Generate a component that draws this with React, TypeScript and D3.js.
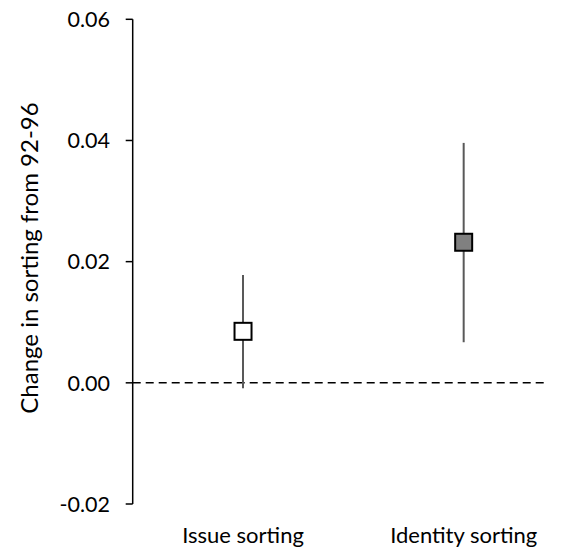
import React from "react";
import * as d3 from "d3";

const categories = ["Issue sorting", "Identity sorting"];
const estimates = [0.0085, 0.0232];
const lowerBounds = [-0.0009, 0.0067];
const upperBounds = [0.0178, 0.0396];
const fills = ["#ffffff", "#808080"];
const yTicks = [-0.02, 0, 0.02, 0.04, 0.06];
const yTitle = "Change in sorting from 92-96";

const W = 563;
const H = 548;
const axisX = 132.7;
const font = "Lato, 'Open Sans', sans-serif";

export default function App() {
  const y = d3.scaleLinear().domain([-0.02, 0.06]).range([504, 19.3]);
  const x = d3.scaleBand<string>().domain(categories).range([axisX, 574]).padding(0);
  const fmt = (v: number) => d3.format(".2f")(v).replace("\u2212", "-");
  const sq = 17;

  return (
    <svg
      width={W}
      height={H}
      style={{ position: "absolute", left: 0, top: 0, background: "#fff" }}
      fontFamily={font}
    >
      {/* y axis */}
      <line x1={axisX} x2={axisX} y1={y(0.06)} y2={y(-0.02)} stroke="#000" strokeWidth={1.5} />
      {yTicks.map((t) => (
        <g key={t}>
          <line x1={axisX - 7} x2={axisX} y1={y(t)} y2={y(t)} stroke="#000" strokeWidth={1.5} />
          <text x={110} y={y(t)} dy="0.36em" textAnchor="end" fontSize={21.5} fill="#000">
            {fmt(t)}
          </text>
        </g>
      ))}
      <text
        transform={`translate(29,258) rotate(-90)`}
        textAnchor="middle"
        dy="0.36em"
        fontSize={24}
        fill="#000"
      >
        {yTitle}
      </text>
      {/* zero dashed line */}
      <line
        x1={axisX}
        x2={547}
        y1={y(0)}
        y2={y(0)}
        stroke="#000"
        strokeWidth={1.5}
        strokeDasharray="8,5"
      />
      {/* points */}
      {categories.map((c, i) => {
        const cx = (x(c) ?? 0) + x.bandwidth() / 2;
        return (
          <g key={c}>
            <line
              x1={cx}
              x2={cx}
              y1={y(upperBounds[i])}
              y2={y(lowerBounds[i])}
              stroke="#595959"
              strokeWidth={2}
            />
            <rect
              x={cx - sq / 2}
              y={y(estimates[i]) - sq / 2}
              width={sq}
              height={sq}
              fill={fills[i]}
              stroke="#000"
              strokeWidth={2}
            />
            <text x={cx} y={543} textAnchor="middle" fontSize={22} fill="#000">
              {c}
            </text>
          </g>
        );
      })}
    </svg>
  );
}
